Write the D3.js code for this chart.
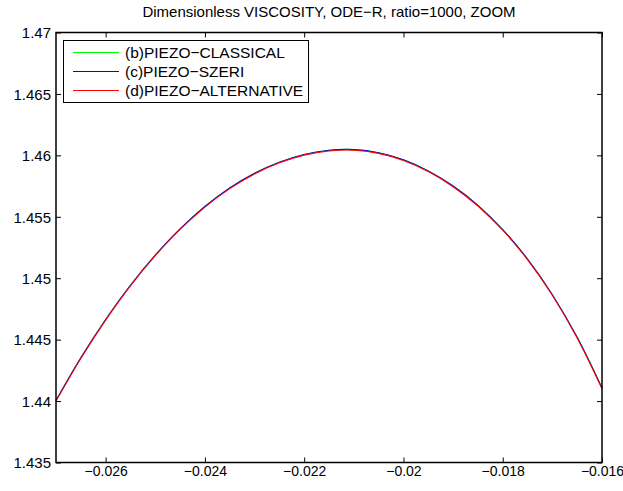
<!DOCTYPE html>
<html><head><meta charset="utf-8">
<script src="https://cdn.jsdelivr.net/npm/d3@7"></script>
<style>
body{margin:0;background:#fff;}
text{font-family:"Liberation Sans",Arial,Helvetica,sans-serif;fill:#000;}
</style></head>
<body><svg id="c" width="623" height="491"></svg>
<script>
const title = "Dimensionless VISCOSITY, ODE\u2212R, ratio=1000, ZOOM";
const seriesNames = ["(b)PIEZO\u2212CLASSICAL","(c)PIEZO\u2212SZERI","(d)PIEZO\u2212ALTERNATIVE"];
const seriesColors = ["#00ff00","#0000ff","#ff0000"];
const xs = [-0.027,-0.0265,-0.026,-0.0255,-0.025,-0.0245,-0.024,-0.0235,-0.023,-0.0225,-0.022,-0.0215,-0.021,-0.0205,-0.02,-0.0195,-0.019,-0.0185,-0.018,-0.0175,-0.017,-0.0165,-0.016];
const classical = [1.44005,1.44352,1.44664,1.44943,1.45188,1.45402,1.45584,1.45734,1.45854,1.45944,1.46007,1.46041,1.46047,1.46021,1.45964,1.45873,1.45750,1.45593,1.45396,1.45156,1.44866,1.44519,1.44106];
const szeri = [1.44005,1.44352,1.44664,1.44943,1.45188,1.45402,1.45584,1.45734,1.45854,1.45944,1.46007,1.46041,1.46047,1.46021,1.45964,1.45873,1.45750,1.45593,1.45396,1.45156,1.44866,1.44519,1.44106];
const alternative = [1.44000,1.44347,1.44659,1.44938,1.45183,1.45397,1.45579,1.45729,1.45849,1.45939,1.46002,1.46036,1.46042,1.46016,1.45959,1.45868,1.45745,1.45588,1.45391,1.45151,1.44861,1.44514,1.44101];
const xTicks = [-0.026,-0.024,-0.022,-0.02,-0.018,-0.016];
const xTickLabels = ["\u22120.026","\u22120.024","\u22120.022","\u22120.02","\u22120.018","\u22120.016"];
const yTicks = [1.435,1.44,1.445,1.45,1.455,1.46,1.465,1.47];
const yTickLabels = ["1.435","1.44","1.445","1.45","1.455","1.46","1.465","1.47"];

const L=56, R=602, T=32.5, B=462.5;
const svg = d3.select("#c");
const x = d3.scaleLinear().domain([-0.027,-0.016]).range([L,R]);
const y = d3.scaleLinear().domain([1.435,1.47]).range([B,T]);

// title
svg.append("text").attr("x",(L+R)/2).attr("y",17).attr("text-anchor","middle")
  .attr("font-size",15).text(title);

// lines
const series = [classical, szeri, alternative];
const line = d3.line().x((d,i)=>x(xs[i])).y(d=>y(d)).curve(d3.curveCatmullRom);
series.forEach((s,k)=>{
  svg.append("path").datum(s).attr("d",line).attr("fill","none")
    .attr("stroke",seriesColors[k]).attr("stroke-width",1.1);
});

// axes with inward ticks, all four sides
const tl = 5;
const gB = svg.append("g").attr("transform",`translate(0,${B})`)
  .call(d3.axisBottom(x).tickValues(xTicks).tickSizeInner(-tl).tickSizeOuter(0).tickPadding(4)
    .tickFormat((d,i)=>xTickLabels[i]));
const gT = svg.append("g").attr("transform",`translate(0,${T})`)
  .call(d3.axisTop(x).tickValues(xTicks).tickSizeInner(-tl).tickSizeOuter(0).tickFormat(""));
const gL = svg.append("g").attr("transform",`translate(${L},0)`)
  .call(d3.axisLeft(y).tickValues(yTicks).tickSizeInner(-tl).tickSizeOuter(0).tickPadding(5)
    .tickFormat((d,i)=>yTickLabels[i]));
const gR = svg.append("g").attr("transform",`translate(${R},0)`)
  .call(d3.axisRight(y).tickValues(yTicks).tickSizeInner(-tl).tickSizeOuter(0).tickFormat(""));
[gB,gT,gL,gR].forEach(g=>{
  g.select(".domain").remove();
  g.selectAll(".tick line").attr("stroke","#000").attr("stroke-width",1);
  g.selectAll("text").attr("font-family","'Liberation Sans',Arial,sans-serif").attr("fill","#000");
});
gB.selectAll("text").attr("font-size",14);
gL.selectAll("text").attr("font-size",15).attr("dy","0.35em");

// box
svg.append("rect").attr("x",L).attr("y",T).attr("width",R-L).attr("height",B-T)
  .attr("fill","none").attr("stroke","#000").attr("stroke-width",1.5);

// legend
const lg = svg.append("g");
lg.append("rect").attr("x",63.5).attr("y",40.5).attr("width",245).attr("height",62)
  .attr("fill","#fff").attr("stroke","#000").attr("stroke-width",1);
seriesNames.forEach((n,k)=>{
  const yy = 52.5 + k*19;
  lg.append("line").attr("x1",73).attr("x2",119).attr("y1",yy).attr("y2",yy)
    .attr("stroke",seriesColors[k]).attr("stroke-width",1.1);
  lg.append("text").attr("x",125).attr("y",yy).attr("dy","0.35em")
    .attr("font-size",15.5).text(n);
});
</script></body></html>
